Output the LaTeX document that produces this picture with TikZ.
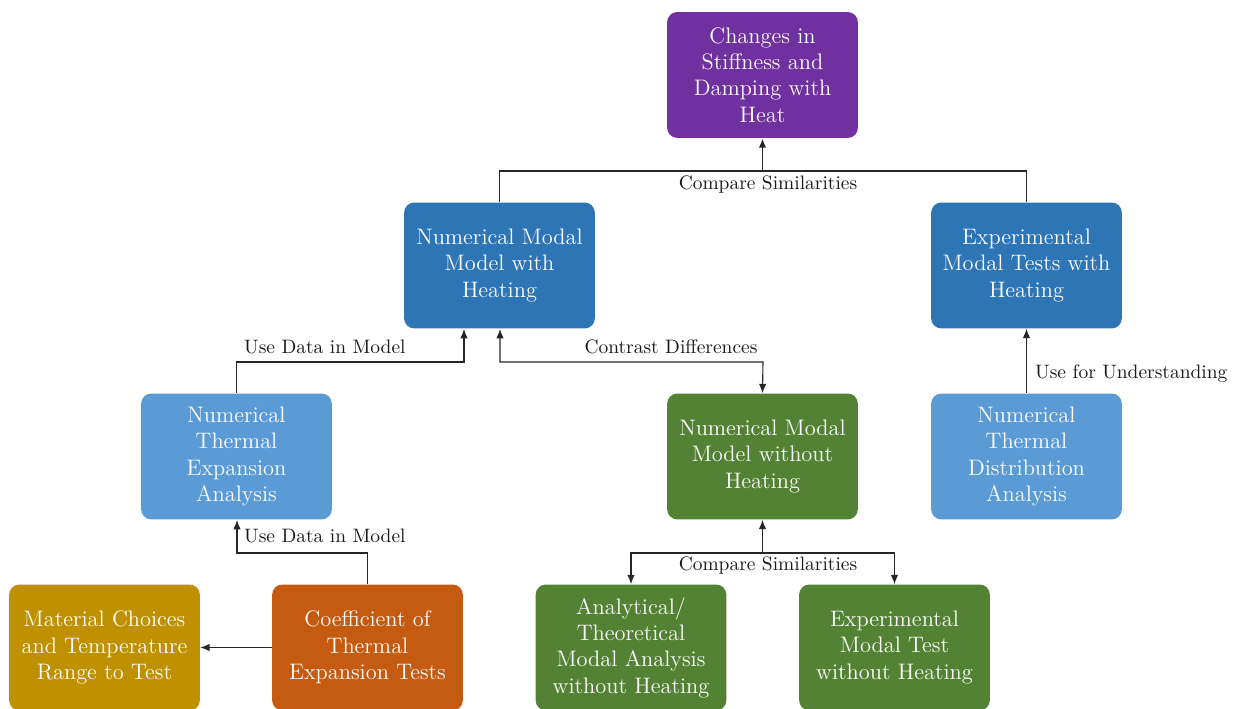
\documentclass[tikz,border=0pt]{standalone}
\usetikzlibrary{arrows.meta}
\definecolor{cpurple}{RGB}{112,48,160}
\definecolor{cblue}{RGB}{46,117,182}
\definecolor{clblue}{RGB}{91,155,213}
\definecolor{cgreen}{RGB}{84,130,53}
\definecolor{corange}{RGB}{197,90,17}
\definecolor{cgold}{RGB}{191,144,0}
\tikzset{
  box/.style={rounded corners=5.5pt, minimum width=103pt, minimum height=68pt,
    align=center, text=white, font=\fontsize{12.1}{14.2}\selectfont, inner sep=2pt},
  conn/.style={draw=black!85, line width=0.6pt},
  arr/.style={conn, -{Latex[length=5pt,width=4pt]}},
  lbl/.style={font=\fontsize{10.5}{12}\selectfont, text=black!90, inner sep=1pt}
}
\begin{document}
\begin{tikzpicture}[x=0.54pt,y=-0.54pt]
\useasboundingbox (0,0) rectangle (1237,709);
% nodes
\node[box, fill=cpurple] (top) at (762.5,75) {Changes in\\Stiffness and\\Damping with\\Heat};
\node[box, fill=cblue] (nmh) at (499.5,265.5) {Numerical Modal\\Model with\\Heating};
\node[box, fill=cblue] (emh) at (1026.5,265.5) {Experimental\\Modal Tests with\\Heating};
\node[box, fill=clblue] (nte) at (236.5,456.5) {Numerical\\Thermal\\Expansion\\Analysis};
\node[box, fill=cgreen] (nmw) at (762.5,456.5) {Numerical Modal\\Model without\\Heating};
\node[box, fill=clblue] (ntd) at (1026.5,456.5) {Numerical\\Thermal\\Distribution\\Analysis};
\node[box, fill=cgold] (mat) at (104.5,647.5) {Material Choices\\and Temperature\\Range to Test};
\node[box, fill=corange] (cte) at (367.5,647.5) {Coefficient of\\Thermal\\Expansion Tests};
\node[box, fill=cgreen] (ana) at (631,647.5) {Analytical/\\Theoretical\\Modal Analysis\\without Heating};
\node[box, fill=cgreen] (emw) at (894.5,647.5) {Experimental\\Modal Test\\without Heating};
% coordinates
\coordinate (j1) at (762.5,171);
\coordinate (j2) at (762.5,553);
% connectors
\draw[conn] (nmh.north) |- (j1) -| (emh.north);
\draw[arr, line width=1pt] (j1) -- (top.south);
\node[lbl] (l1) at (768,185) {Compare Similarities};

\draw[arr] (nte.north) |- (464,362) -- (464,329);
\node[lbl, anchor=south west] (l2) at (242,356) {Use Data in Model};

\draw[arr, {Latex[length=5pt,width=4pt]}-{Latex[length=5pt,width=4pt]}] (500,329) |- (763,362) -- (nmw.north);
\node[lbl, anchor=south] (l3) at (671,356) {Contrast Differences};

\draw[arr] (ntd.north) -- (emh.south);
\node[lbl, anchor=west] (l4) at (1033,374) {Use for Understanding};

\draw[arr] (cte.north) |- (237,553) -- (237,520);
\node[lbl, anchor=west] (l5) at (242,536) {Use Data in Model};

\draw[arr] (j2) -- (nmw.south);
\draw[arr] (j2) -| (ana.north);
\draw[arr] (j2) -| (emw.north);
\node[lbl] (l6) at (768,566) {Compare Similarities};

\draw[arr] (cte.west) -- (mat.east);
\end{tikzpicture}
\end{document}
